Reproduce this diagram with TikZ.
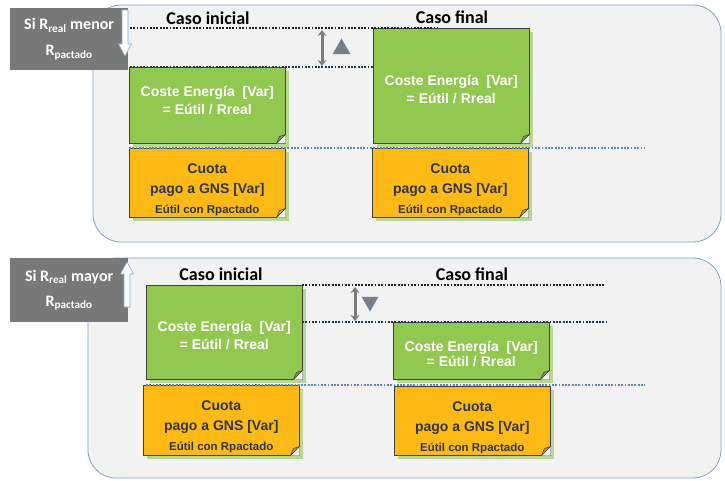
\documentclass[tikz,border=0pt]{standalone}
\usepackage{fontspec}
\setmainfont{Liberation Sans}
\newfontfamily\calfont{Carlito}
\usetikzlibrary{arrows.meta,shadows}
\definecolor{panelbg}{RGB}{242,242,242}
\definecolor{panelborder}{RGB}{130,160,200}
\definecolor{labelgray}{RGB}{120,120,120}
\definecolor{notegreen}{RGB}{146,200,80}
\definecolor{noteorange}{RGB}{255,185,20}
\definecolor{foldgreen}{RGB}{115,165,60}
\definecolor{foldorange}{RGB}{215,150,10}
\definecolor{shadowgreen}{RGB}{180,212,135}
\definecolor{lineblack}{RGB}{30,30,30}
\definecolor{linenavy}{RGB}{30,50,100}
\definecolor{lineblue}{RGB}{90,135,195}
\definecolor{textslate}{RGB}{45,55,75}
\definecolor{arrowgray}{RGB}{125,125,125}
\newcommand\foldit[2]{%
  \fill[panelbg] (#1.south east) ++(-9,0) -- ++(9,0) -- ++(0,-9) -- cycle;
  \filldraw[fill=#2, draw=black!75, line width=0.5pt] (#1.south east) ++(-9,0) -- ++(9,-9) -- ++(-6,2) -- cycle;}
\begin{document}
\begin{tikzpicture}[x=1pt,y=-1pt,
  panel/.style={draw=panelborder, line width=0.8pt, fill=panelbg, rounded corners=28pt},
  labelbox/.style={anchor=north west, fill=labelgray, text=white, align=center, inner sep=0pt,
    minimum width=118pt, font=\calfont\bfseries\fontsize{16}{26}\selectfont},
  note/.style={anchor=north west, inner sep=0pt, draw=black!75, line width=0.5pt,
    minimum width=156pt,
    drop shadow={fill=shadowgreen, opacity=0.9, shadow xshift=4pt, shadow yshift=-4pt}},
  greennote/.style={note, fill=notegreen},
  orangenote/.style={note, fill=noteorange},
  greentext/.style={align=center, inner sep=0pt, text=white, font=\bfseries\fontsize{14}{18}\selectfont},
  orangetext/.style={align=center, inner sep=0pt, text=textslate, font=\bfseries\fontsize{14}{20}\selectfont},
  smalltext/.style={font=\bfseries\fontsize{11.5}{13}\selectfont},
  dotline/.style={line width=1.8pt, dash pattern=on 1.8pt off 1.5pt},
  heading/.style={font=\calfont\bfseries\fontsize{18}{20}\selectfont, inner sep=0pt},
  delta/.style={draw=arrowgray, line width=3pt, {Stealth[length=6pt,width=9pt]}-{Stealth[length=6pt,width=9pt]}},
  tri/.style={fill=arrowgray, draw=lineblue, line width=0.5pt},
  whitearrow/.style={fill=white, draw=lineblue!70, line width=0.6pt}]
\useasboundingbox (0,0) rectangle (725,481);
\fill[white] (0,0) rectangle (725,481);
% ---------- top panel ----------
\draw[panel] (93,5) rectangle (721,242);
\node[greennote, minimum height=76pt] (g1) at (129,67) {};
\node[greennote, minimum height=115pt] (g2) at (373,28) {};
\node[orangenote, minimum height=69pt] (o1) at (129,148) {};
\node[orangenote, minimum height=69pt] (o2) at (372,148) {};
\foldit{g1}{foldgreen}
\foldit{g2}{foldgreen}
\foldit{o1}{foldorange}
\foldit{o2}{foldorange}
\node[greentext] (g1t) at ([yshift=5pt]g1.center) {Coste Energía~ [Var]\\= Eútil / Rreal};
\node[greentext] (g2t) at ([yshift=-4pt]g2.center) {Coste Energía~ [Var]\\= Eútil / Rreal};
\node[orangetext] (o1t) at ([yshift=-7pt]o1.center) {Cuota\\pago a GNS [Var]\\{\fontsize{11.5}{13}\selectfont Eútil con Rpactado}};
\node[orangetext] (o2t) at ([yshift=-7pt]o2.center) {Cuota\\pago a GNS [Var]\\{\fontsize{11.5}{13}\selectfont Eútil con Rpactado}};
\coordinate (ta1) at (130,28); \coordinate (ta2) at (437,28);
\coordinate (tb1) at (130,67); \coordinate (tb2) at (373,67);
\coordinate (tc1) at (129,148); \coordinate (tc2) at (645,148);
\draw[dotline, lineblack] (ta1) -- (ta2);
\draw[dotline, linenavy] (tb1) -- (tb2);
\draw[dotline, lineblue] (tc1) -- (tc2);
\node[heading] (hi1) at (208,18) {Caso inicial};
\node[heading] (hf1) at (452,17) {Caso final};
\coordinate (da1) at (322,30); \coordinate (da2) at (322,66);
\draw[delta] (da1) -- (da2);
\filldraw[tri] (333,54) -- (350,54) -- (341.5,39) -- cycle;
\node[labelbox, minimum height=62pt] (l1) at (10,8) {Si R\textsubscript{real} menor\\R\textsubscript{pactado}};
\filldraw[whitearrow] (122,10) -- (128,10) -- (128,44) -- (131.5,44) -- (125,56) -- (118.5,44) -- (122,44) -- cycle;
% ---------- bottom panel ----------
\draw[panel] (88,258) rectangle (721,478);
\node[greennote, minimum height=94pt] (g3) at (146,285) {};
\node[greennote, minimum height=57pt] (g4) at (393,322) {};
\node[orangenote, minimum height=70pt] (o3) at (143,385) {};
\node[orangenote, minimum height=69pt] (o4) at (394,386) {};
\foldit{g3}{foldgreen}
\foldit{g4}{foldgreen}
\foldit{o3}{foldorange}
\foldit{o4}{foldorange}
\node[greentext] (g3t) at ([yshift=-3pt]g3.center) {Coste Energía~ [Var]\\= Eútil / Rreal};
\node[greentext, font=\bfseries\fontsize{14}{15}\selectfont] (g4t) at ([yshift=-3pt]g4.center) {Coste Energía~ [Var]\\= Eútil / Rreal};
\node[orangetext] (o3t) at ([yshift=-7pt]o3.center) {Cuota\\pago a GNS [Var]\\{\fontsize{11.5}{13}\selectfont Eútil con Rpactado}};
\node[orangetext] (o4t) at ([yshift=-7pt]o4.center) {Cuota\\pago a GNS [Var]\\{\fontsize{11.5}{13}\selectfont Eútil con Rpactado}};
\coordinate (ba1) at (302,285); \coordinate (ba2) at (604,285);
\coordinate (bb1) at (302,322); \coordinate (bb2) at (607,322);
\coordinate (bc1) at (146,385); \coordinate (bc2) at (645,385);
\draw[dotline, lineblack] (ba1) -- (ba2);
\draw[dotline, linenavy] (bb1) -- (bb2);
\draw[dotline, lineblue] (bc1) -- (bc2);
\node[heading] (hi2) at (221,274) {Caso inicial};
\node[heading] (hf2) at (472,274) {Caso final};
\coordinate (db1) at (355,287); \coordinate (db2) at (355,321);
\draw[delta] (db1) -- (db2);
\filldraw[tri] (362,297) -- (378,297) -- (370,311) -- cycle;
\node[labelbox, minimum height=64pt, font=\calfont\bfseries\fontsize{16}{25}\selectfont] (l2) at (10,258) {Si R\textsubscript{real} mayor\\R\textsubscript{pactado}};
\filldraw[whitearrow] (124,307) -- (130,307) -- (130,274) -- (133.5,274) -- (127,262) -- (120.5,274) -- (124,274) -- cycle;
\end{tikzpicture}
\end{document}
